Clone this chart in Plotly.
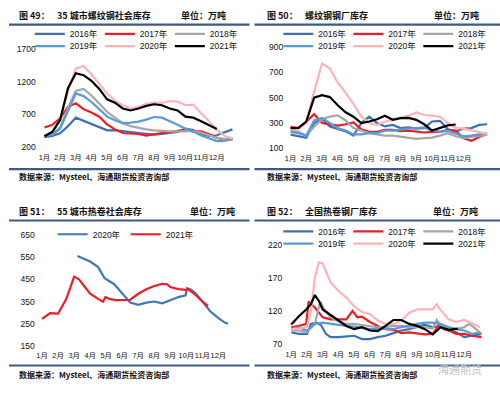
import plotly.graph_objects as go

W, H = 500, 394

# ---------------- data ----------------
month_labels = ["1月", "2月", "3月", "4月", "5月", "6月", "7月", "8月", "9月", "10月", "11月", "12月"]
month_ticks = [0, 1, 2, 3, 4, 5, 6, 7, 8, 9, 10, 11]

# Panel 1: 35城市螺纹钢社会库存 (x = months since start of Jan)
p1_x = [0, 0.5, 1, 1.5, 2, 2.5, 3, 3.5, 4, 4.5, 5, 5.5, 6, 6.5, 7, 7.5, 8, 8.5, 9, 9.5, 10, 10.5, 11, 11.5, 12]
p1_2016 = [350, 370, 410, 520, 650, 600, 560, 510, 455, 460, 450, 430, 415, 400, 390, 400, 415, 430, 480, 460, 400, 370, 380, 420, 470]
p1_2017 = [500, 540, 640, 815, 870, 780, 730, 665, 545, 470, 415, 405, 400, 375, 400, 415, 430, 450, 465, 440, 440, 400, 340, 315, 315]
p1_2018 = [380, 400, 500, 800, 1060, 1090, 990, 865, 740, 650, 565, 520, 490, 470, 455, 445, 440, 440, 440, 445, 420, 380, 340, 320, 330]
p1_2019 = [370, 390, 480, 760, 1020, 980, 890, 780, 665, 610, 565, 575, 590, 620, 660, 650, 600, 540, 480, 440, 375, 330, 290, 295, 320]
p1_2020 = [380, 430, 620, 1050, 1400, 1440, 1315, 1165, 1015, 910, 840, 790, 815, 860, 880, 875, 905, 895, 840, 850, 715, 600, 465, 370, 330]
p1_2021 = [365, 430, 615, 1100, 1330, 1300, 1215, 1090, 930, 880, 790, 760, 790, 830, 855, 840, 790, 760, 665, 650, 595, 530, 475, None, None]

# Panel 2: 螺纹钢钢厂库存
p2_x = [0, 0.5, 1, 1.5, 2, 2.5, 3, 3.5, 4, 4.5, 5, 5.5, 6, 6.5, 7, 7.5, 8, 8.5, 9, 9.5, 10, 10.5, 11, 11.5, 12, 12.5]
p2_2016 = [208, 195, 183, 300, 330, 273, 255, 234, 200, 300, 350, 300, 273, 285, 260, 265, 255, 260, 312, 317, 250, 234, 255, 260, 285, 290]
p2_2017 = [270, 260, 310, 370, 300, 290, 280, 290, 305, 250, 230, 230, 245, 245, 235, 240, 230, 225, 230, 230, 245, 240, 180, 160, 190, 215]
p2_2018 = [240, 230, 200, 270, 330, 350, 360, 320, 260, 240, 220, 210, 200, 200, 190, 180, 175, 180, 185, 200, 220, 195, 180, 190, 200, 205]
p2_2019 = [230, 220, 200, 320, 340, 300, 260, 240, 210, 210, 220, 220, 240, 240, 250, 255, 260, 265, 240, 230, 240, 220, 195, 200, 210, 220]
p2_2020 = [250, 250, 300, 550, 770, 730, 620, 540, 450, 350, 300, 285, 310, 325, 343, 358, 384, 363, 358, 350, 300, 262, 255, 240, 225, 214]
p2_2021 = [260, 262, 312, 500, 520, 505, 440, 385, 350, 300, 312, 330, 358, 325, 338, 340, 325, 290, 240, 258, 281, 288, None, None, None, None]

# Panel 3: 55城市热卷社会库存
p3_2020_x = [2.2, 2.5, 3.0, 3.5, 3.9, 4.5, 5.0, 5.5, 6.0, 6.5, 7.0, 7.5, 8.0, 8.5, 8.95, 9.05, 9.3, 9.6, 10.0, 10.5, 11.0, 11.4, 11.6]
p3_2020 = [555, 545, 530, 505, 455, 428, 385, 345, 335, 345, 350, 342, 356, 370, 378, 410, 403, 385, 350, 305, 275, 255, 250]
p3_2021_x = [0, 0.3, 0.5, 1.0, 1.5, 1.8, 2.0, 2.3, 2.6, 3.0, 3.5, 3.8, 3.95, 4.2, 4.6, 5.0, 5.5, 6.0, 6.5, 7.0, 7.5, 7.8, 8.0, 8.5, 9.0, 9.1, 9.5, 10.0, 10.35]
p3_2021 = [272, 288, 298, 296, 360, 420, 462, 450, 420, 385, 362, 349, 370, 362, 356, 356, 358, 385, 405, 420, 430, 428, 415, 406, 402, 406, 385, 350, 330]

# Panel 4: 全国热卷钢厂库存
p4_2016_x = [0, 0.5, 1, 1.25, 1.6, 1.9, 2.2, 2.5, 3, 3.5, 4, 4.5, 5, 5.5, 6, 6.5, 7, 7.5, 8, 8.5, 9, 9.5, 10, 10.5, 11, 11.5, 12.1]
p4_2016 = [87, 85, 85, 100, 102, 98, 85, 80, 80, 81, 82, 77, 77, 80, 82, 86, 90, 92, 96, 99, 95, 97, 92, 87, 80, 82, 85]
p4_2017_x = [0, 0.5, 0.95, 1.1, 1.5, 2, 2.5, 3, 3.5, 3.9, 4.2, 4.5, 5, 5.5, 6, 6.5, 7, 7.5, 8, 8.5, 9, 9.4, 9.7, 10, 10.5, 11, 11.5, 12.1]
p4_2017 = [95, 97, 100, 134, 125, 110, 107, 107, 107, 120, 110, 111, 103, 97, 92, 91, 86, 87, 85, 84, 85, 99, 92, 90, 85, 85, 82, 80]
p4_2018_x = [0, 0.5, 1, 1.5, 1.7, 1.85, 2.1, 2.5, 3, 3.5, 4, 4.5, 5, 5.5, 6, 6.5, 7, 7.5, 8, 8.5, 9, 9.25, 9.5, 10, 10.5, 11, 11.3, 11.6, 12.1]
p4_2018 = [90, 90, 88, 100, 120, 134, 122, 110, 104, 100, 100, 98, 96, 95, 95, 97, 97, 95, 95, 95, 93, 106, 98, 95, 92, 95, 100, 95, 85]
p4_2019_x = [0, 0.5, 1, 1.5, 2, 2.5, 3, 3.5, 4, 4.5, 5, 5.5, 6, 6.5, 7, 7.5, 8, 8.5, 9, 9.5, 10, 10.5, 11, 11.5, 12]
p4_2019 = [92, 95, 90, 100, 102, 100, 98, 97, 96, 94, 92, 93, 92, 92, 95, 98, 100, 102, 102, 100, 95, 92, 90, 85, 87]
p4_2020_x = [0, 0.5, 1, 1.25, 1.5, 1.75, 2, 2.5, 3, 3.5, 4, 4.5, 5, 5.5, 6, 6.5, 7, 7.5, 8, 8.5, 9, 9.25, 9.5, 10, 10.5, 11, 11.5, 12]
p4_2020 = [92, 93, 96, 120, 170, 194, 192, 163, 150, 140, 127, 118, 115, 105, 100, 100, 105, 117, 122, 122, 122, 130, 121, 107, 103, 106, 100, 95]
p4_2021_x = [0, 0.5, 1, 1.25, 1.5, 1.75, 2, 2.5, 3, 3.5, 4, 4.5, 5, 5.5, 6, 6.5, 7, 7.5, 8, 8.5, 9, 9.5, 10, 10.6]
p4_2021 = [99, 112, 123, 130, 144, 135, 122, 114, 105, 97, 92, 95, 90, 89, 97, 106, 106, 100, 97, 92, 84, 95, 91, 93]

# ---------------- styles ----------------
COL = {"2016年": "#3d72b6", "2017年": "#ee1c25", "2018年": "#a6a6a6",
       "2019年": "#5b9bd5", "2020年": "#ffb3b6", "2021年": "#000000"}
P3COL = {"2020年": "#3d78b8", "2021年": "#ee1c25"}
LINE_W = 2.2
NUM_FONT = "Arial, 'Liberation Sans', 'Noto Sans CJK SC', sans-serif"
CJK_FONT = "'Noto Sans CJK SC', 'Noto Sans', sans-serif"
RULE = "#3d5a85"

fig = go.Figure()

def add(name, x, y, ax, legend, color):
    fig.add_trace(go.Scatter(x=x, y=y, name=name, mode="lines",
                             line=dict(color=color, width=LINE_W),
                             xaxis="x" + ("" if ax == 1 else str(ax)),
                             yaxis="y" + ("" if ax == 1 else str(ax)),
                             legend=legend, connectgaps=False))

add("2016年", p1_x, p1_2016, 1, "legend", COL["2016年"])
add("2017年", p1_x, p1_2017, 1, "legend", COL["2017年"])
add("2018年", p1_x, p1_2018, 1, "legend", COL["2018年"])
add("2019年", p1_x, p1_2019, 1, "legend2", COL["2019年"])
add("2020年", p1_x, p1_2020, 1, "legend2", COL["2020年"])
add("2021年", p1_x, p1_2021, 1, "legend2", COL["2021年"])
add("2016年", p2_x, p2_2016, 2, "legend3", COL["2016年"])
add("2017年", p2_x, p2_2017, 2, "legend3", COL["2017年"])
add("2018年", p2_x, p2_2018, 2, "legend3", COL["2018年"])
add("2019年", p2_x, p2_2019, 2, "legend4", COL["2019年"])
add("2020年", p2_x, p2_2020, 2, "legend4", COL["2020年"])
add("2021年", p2_x, p2_2021, 2, "legend4", COL["2021年"])
add("2020年", p3_2020_x, p3_2020, 3, "legend5", P3COL["2020年"])
add("2021年", p3_2021_x, p3_2021, 3, "legend5", P3COL["2021年"])
add("2016年", p4_2016_x, p4_2016, 4, "legend6", COL["2016年"])
add("2017年", p4_2017_x, p4_2017, 4, "legend6", COL["2017年"])
add("2018年", p4_2018_x, p4_2018, 4, "legend6", COL["2018年"])
add("2019年", p4_2019_x, p4_2019, 4, "legend7", COL["2019年"])
add("2020年", p4_2020_x, p4_2020, 4, "legend7", COL["2020年"])
add("2021年", p4_2021_x, p4_2021, 4, "legend7", COL["2021年"])

def px(v):
    return v / W

def py(v):
    return 1 - v / H

def xaxis(d0, d1, a, b, standoff, anchor):
    return dict(domain=[px(d0), px(d1)], range=[(d0 - a) / b, (d1 - a) / b],
                tickmode="array", tickvals=month_ticks, ticktext=month_labels,
                tickangle=0, showgrid=False, zeroline=False, showline=False, ticks="",
                tickfont=dict(family=NUM_FONT, size=7.4, color="#111"),
                ticklabelstandoff=standoff, anchor=anchor, fixedrange=True)

def yaxis(v0, p0, v1, p1, rng, ticks, standoff, anchor):
    # linear pixel mapping v0->p0, v1->p1; domain follows from the padded range
    s = (p1 - p0) / (v1 - v0)
    top = p0 + (rng[1] - v0) * s
    bot = p0 + (rng[0] - v0) * s
    return dict(domain=[py(bot), py(top)], range=rng, tickmode="array",
                tickvals=ticks, showgrid=False, zeroline=False, showline=False,
                ticks="", tickfont=dict(family=NUM_FONT, size=8.5, color="#111"),
                ticklabelstandoff=standoff, anchor=anchor, fixedrange=True)

layout = dict(
    width=W, height=H, margin=dict(l=0, r=0, t=0, b=0),
    paper_bgcolor="white", plot_bgcolor="white",
    font=dict(family=NUM_FONT, size=8.5, color="#111"),
    xaxis=xaxis(38, 236, 41.7, 15.76, 4, "y"),
    yaxis=yaxis(200, 146, 1700, 46, [190, 1710], [200, 700, 1200, 1700], 4, "x"),
    xaxis2=xaxis(286, 492, 289.3, 15.82, 4, "y2"),
    yaxis2=yaxis(100, 147.3, 900, 44, [95, 905], [100, 300, 500, 700, 900], 3, "x2"),
    xaxis3=xaxis(36, 232, 39.3, 16.13, 3, "y3"),
    yaxis3=yaxis(150, 349, 650, 235.7, [147, 653], [150, 250, 350, 450, 550, 650], 3, "x3"),
    xaxis4=xaxis(287, 484, 290, 15.82, 4, "y4"),
    yaxis4=yaxis(70, 346.7, 220, 246, [69, 221], [70, 120, 170, 220], 5, "x4"),
)

def leg(x, y, ew):
    return dict(orientation="h", x=px(x), y=py(y), xanchor="left", yanchor="middle",
                bgcolor="rgba(0,0,0,0)", borderwidth=0, entrywidth=ew,
                entrywidthmode="pixels", font=dict(family=NUM_FONT, size=8.5, color="#111"),
                tracegroupgap=0)

layout["legend"] = leg(27, 30.5, 25)
layout["legend2"] = leg(27, 43, 25)
layout["legend3"] = leg(277, 30.5, 25)
layout["legend4"] = leg(277, 43, 25)
layout["legend5"] = leg(50, 235, 28)
layout["legend6"] = leg(277, 232, 25)
layout["legend7"] = leg(277, 244.5, 25)

fig.update_layout(**layout)

shapes = []
for (x0, x1, y0) in [(6, 248, 21), (6, 248, 168.5), (253, 500, 21), (253, 500, 168.5),
                     (6, 248, 221), (6, 248, 369), (253, 500, 221), (253, 500, 369)]:
    shapes.append(dict(type="line", xref="paper", yref="paper", x0=px(x0), x1=px(x1),
                       y0=py(y0), y1=py(y0), line=dict(color=RULE, width=2.2)))
fig.update_layout(shapes=shapes)

def note(text, x, y, size=9, bold=True, color="#111", font=CJK_FONT):
    t = "<b>" + text + "</b>" if bold else text
    fig.add_annotation(text=t, x=px(x), y=py(y), xref="paper", yref="paper",
                       xanchor="left", yanchor="middle", align="left", showarrow=False,
                       borderpad=0, font=dict(family=font, size=size, color=color))

titles = [
    ("图 49：", 15, 12, "35 城市螺纹钢社会库存", 53, 178),
    ("图 50：", 265, 11.5, "螺纹钢钢厂库存", 303, 433),
    ("图 51：", 15, 212, "55 城市热卷社会库存", 53, 187),
    ("图 52：", 265, 212, "全国热卷钢厂库存", 303, 432),
]
for fig_no, x0, y0, name, xn, xu in titles:
    note(fig_no, x0, y0)
    note(name, xn, y0)
    note("单位：万吨", xu, y0)

source = "数据来源：Mysteel、海通期货投资咨询部"
for x0, y0 in [(15, 176.5), (265, 176.5), (15, 378), (265, 378)]:
    note(source, x0, y0, size=8)

note("海通期货", 437, 372.5, size=11, bold=False, color="#c4c4c4")

fig.write_html("out.html", config={"displayModeBar": False},
               post_script="document.body.style.margin='0';document.body.style.overflow='hidden';")
